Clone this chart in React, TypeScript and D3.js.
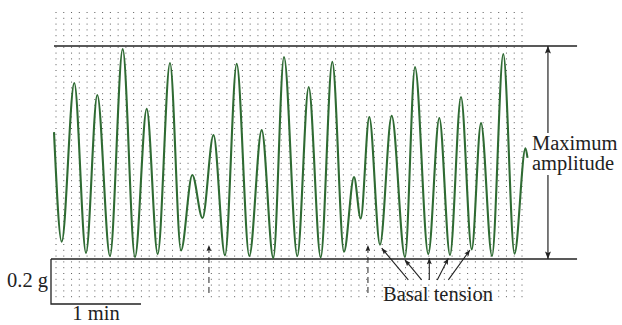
import React from 'react';
import * as d3 from 'd3';

// Extrema of the tension trace: time (s) and tension (g above basal line)
const times = [0, 5.13, 13.53, 21.33, 28.87, 37.33, 45.8, 54.0, 61.8, 69.13, 77.33, 84.67, 92.2, 99.0, 106.33, 114.0, 121.8, 130.2, 138.47, 146.2, 153.33, 162.2, 169.8, 177.8, 185.53, 193.33, 200.0, 204.47, 210.2, 217.33, 225.13, 234.0, 240.67, 249.53, 256.87, 264.0, 271.33, 278.47, 284.67, 292.0, 299.53, 307.0, 314.33, 315.67];
const tension = [0.564, 0.077, 0.782, 0.027, 0.729, 0.013, 0.933, 0.009, 0.667, 0.022, 0.871, 0.038, 0.373, 0.182, 0.551, 0.016, 0.867, 0.013, 0.573, 0.004, 0.898, 0.013, 0.764, 0.007, 0.876, 0.032, 0.364, 0.18, 0.631, 0.064, 0.636, 0.009, 0.853, 0.022, 0.627, 0.018, 0.72, 0.043, 0.604, 0.013, 0.911, 0.024, 0.492, 0.449];

const maxAmplitudeLevel = 0.947;
const basalLevel = 0;
const refLineEnd = 348.7;
const dashedArrowTimes = [103.3, 209.3];
const basalArrowFrom = [[236.2, -0.093], [245.1, -0.093], [250.2, -0.093], [255.5, -0.093], [262.9, -0.093]];
const basalArrowTo = [[218.5, 0.048], [234.0, -0.004], [250.2, 0.004], [262.9, 0.003], [277.3, 0.04]];
const maxArrowTime = 329.3;
const scaleBarTime = [-2, 58];
const scaleBarTension = [0, -0.2];

export default function App() {
  const x = d3.scaleLinear().domain([0, 60]).range([54, 144]);
  const y = d3.scaleLinear().domain([0, 1]).range([259, 34]);

  const pts: [number, number][] = times.map((t, i) => [t, tension[i]]);
  const line = d3.line<[number, number]>()
    .x(d => x(d[0]))
    .y(d => y(d[1]))
    .curve(d3.curveMonotoneX);

  const gridX = d3.range(61).map(i => 56 + i * (466 / 60));
  const textStyle: React.CSSProperties = { fontFamily: "'Liberation Serif', 'DejaVu Serif', serif", fontSize: 20.5 };

  return (
    <svg width={622} height={325} style={{ position: 'absolute', left: 0, top: 0 }}>
      <defs>
        <marker id="ah" viewBox="0 0 10 8" refX={10} refY={4} markerWidth={8} markerHeight={6}
          markerUnits="userSpaceOnUse" orient="auto">
          <path d="M0,0 L10,4 L0,8 L2,4 z" fill="#222" />
        </marker>
        <marker id="ahs" viewBox="0 0 10 8" refX={10} refY={4} markerWidth={7} markerHeight={5}
          markerUnits="userSpaceOnUse" orient="auto">
          <path d="M0,0 L10,4 L0,8 L2,4 z" fill="#222" />
        </marker>
      </defs>
      <rect width={622} height={325} fill="#fff" />
      {/* dotted grid */}
      <g stroke="#333" strokeWidth={1} strokeDasharray="1 4.8" opacity={0.8}>
        {gridX.map((gx, i) => (
          <line key={i} x1={gx} x2={gx} y1={12} y2={300} />
        ))}
      </g>
      {/* reference lines */}
      <line x1={x(0)} x2={x(refLineEnd)} y1={y(maxAmplitudeLevel)} y2={y(maxAmplitudeLevel)} stroke="#222" strokeWidth={1.6} />
      <line x1={x(scaleBarTime[0])} x2={x(refLineEnd)} y1={y(basalLevel)} y2={y(basalLevel)} stroke="#222" strokeWidth={1.4} />
      {/* trace */}
      <path d={line(pts) || ''} fill="none" stroke="#2f6b33" strokeWidth={2.1} strokeLinejoin="round" />
      {/* scale bar */}
      <path d={`M${x(scaleBarTime[0])},${y(scaleBarTension[0])} V${y(scaleBarTension[1])} H${x(scaleBarTime[1])}`}
        fill="none" stroke="#222" strokeWidth={1.3} />
      <text x={48} y={287} textAnchor="end" style={textStyle} fill="#222">0.2 g</text>
      <text x={x((scaleBarTime[0] + scaleBarTime[1]) / 2)} y={320} textAnchor="middle" style={textStyle} fill="#222">1 min</text>
      {/* maximum amplitude arrow */}
      <line x1={x(maxArrowTime)} x2={x(maxArrowTime)} y1={y(0.56)} y2={y(maxAmplitudeLevel)} stroke="#222" strokeWidth={1.2} markerEnd="url(#ah)" />
      <line x1={x(maxArrowTime)} x2={x(maxArrowTime)} y1={y(0.373)} y2={y(basalLevel)} stroke="#222" strokeWidth={1.2} markerEnd="url(#ah)" />
      <text x={532} y={150} style={textStyle} fill="#222">Maximum</text>
      <text x={532} y={170} style={textStyle} fill="#222">amplitude</text>
      {/* dashed arrows */}
      {dashedArrowTimes.map((t, i) => (
        <line key={i} x1={x(t)} x2={x(t)} y1={y(-0.151)} y2={y(0.062)} stroke="#222" strokeWidth={1}
          strokeDasharray="6 4" markerEnd="url(#ahs)" />
      ))}
      {/* basal tension arrows */}
      {basalArrowFrom.map((f, i) => (
        <line key={i} x1={x(f[0])} y1={y(f[1])} x2={x(basalArrowTo[i][0])} y2={y(basalArrowTo[i][1])}
          stroke="#222" strokeWidth={1.1} markerEnd="url(#ahs)" />
      ))}
      <text x={383} y={301} style={textStyle} fill="#222">Basal tension</text>
    </svg>
  );
}
